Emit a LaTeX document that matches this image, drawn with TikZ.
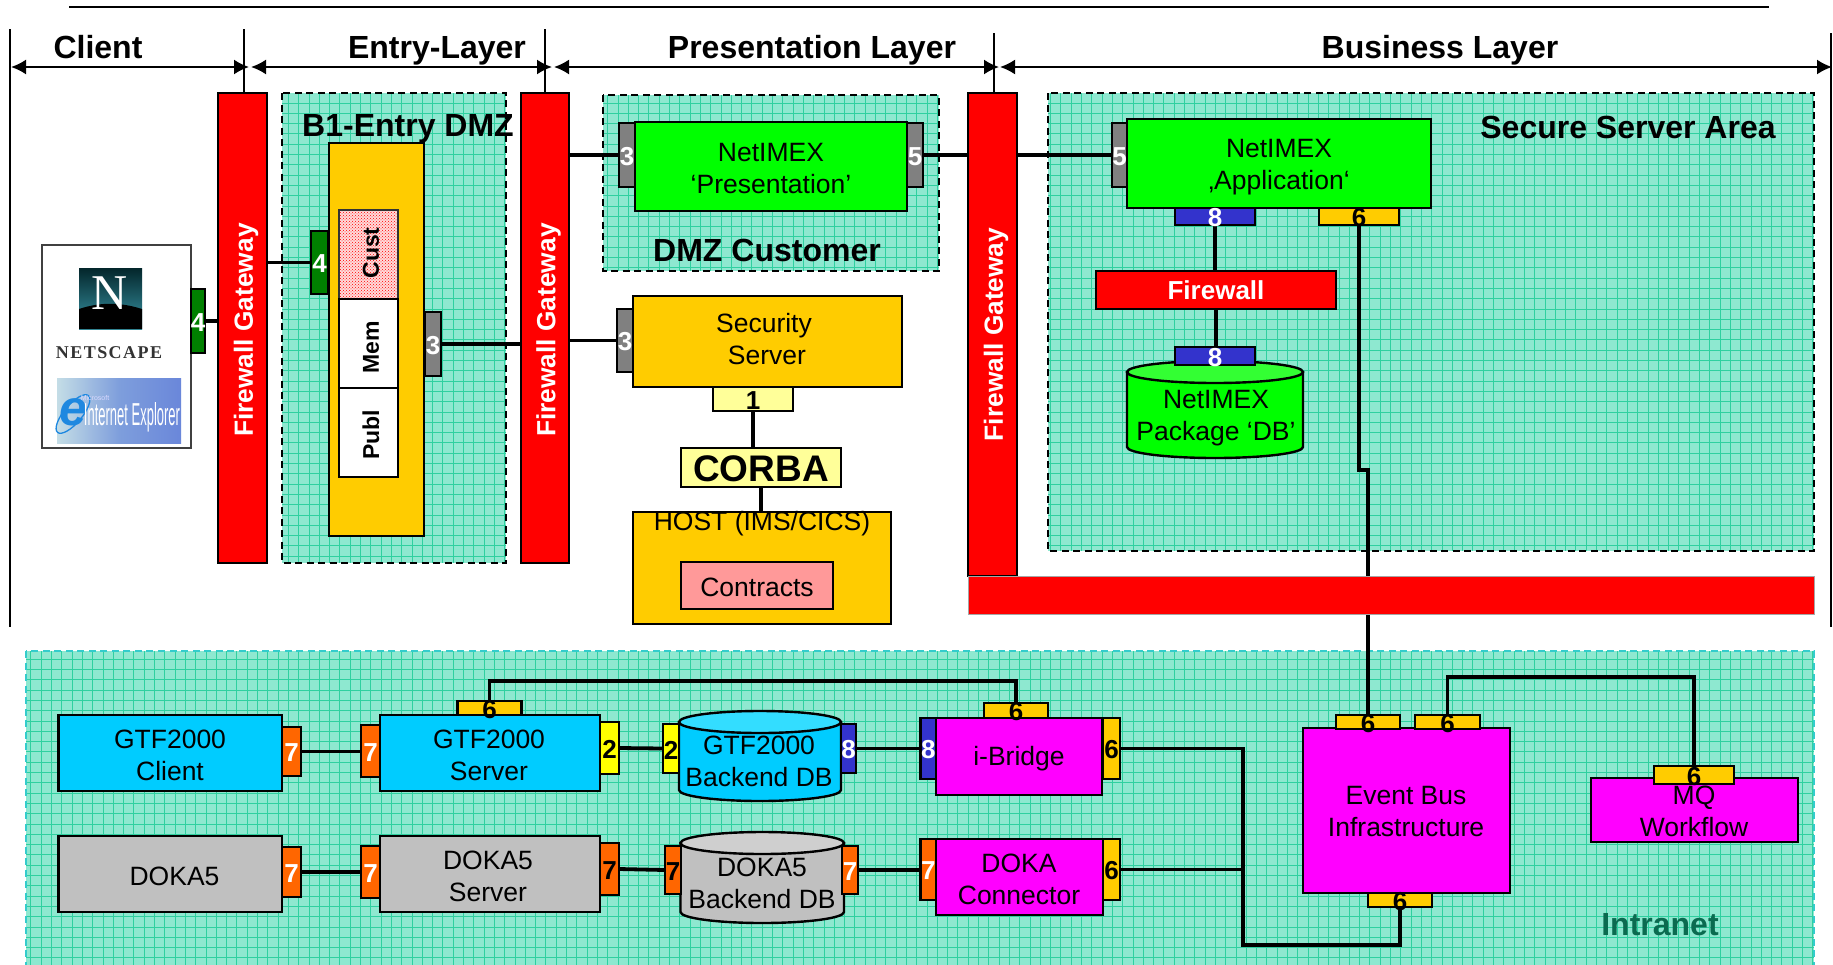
\documentclass[tikz,border=0pt]{standalone}
\usepackage{fontspec}
\usepackage{graphicx}
\setmainfont{Liberation Sans}
\newfontfamily\serifl{Liberation Serif}
\usetikzlibrary{arrows.meta,patterns,calc}
\pgfdeclarelayer{zonelayer}\pgfdeclarelayer{connlayer}
\pgfsetlayers{zonelayer,connlayer,main}
\definecolor{zonefill}{HTML}{8EE8D0}
\definecolor{zonegrid}{HTML}{2FD0A0}
\definecolor{zonecyan}{HTML}{33CCCC}
\definecolor{cfire}{HTML}{FF0000}
\definecolor{cgreen}{HTML}{00FF00}
\definecolor{cgreentop}{HTML}{33FF33}
\definecolor{cgold}{HTML}{FFCC00}
\definecolor{csky}{HTML}{00CCFF}
\definecolor{cskytop}{HTML}{33DDFF}
\definecolor{cgrey}{HTML}{C0C0C0}
\definecolor{cgreytop}{HTML}{CFCFCF}
\definecolor{cmag}{HTML}{FF00FF}
\definecolor{corange}{HTML}{FF6600}
\definecolor{cblue}{HTML}{3333CC}
\definecolor{cdkgreen}{HTML}{008000}
\definecolor{cport}{HTML}{808080}
\definecolor{cyel}{HTML}{FFFF00}
\definecolor{cpale}{HTML}{FFFF99}
\definecolor{cpink}{HTML}{FF9999}
\definecolor{cintra}{HTML}{0B6B50}
\definecolor{ielight}{HTML}{C4DDE6}
\definecolor{iemid}{HTML}{7E9EDC}
\definecolor{iedark}{HTML}{6A87DA}
\definecolor{iee}{HTML}{1E88E0}
\definecolor{nstop}{HTML}{03262B}
\definecolor{nsbot}{HTML}{3A97A8}
\newcommand{\fnt}[1]{\fontsize{#1}{32}\selectfont}
\tikzset{
  boxbase/.style={draw=black,line width=2.4pt,inner sep=0pt,outer sep=0pt,align=center,font=\fnt{26.5}},
  conn/.style={line width=3.8pt,draw=black},
  head/.style={line width=1.8pt,draw=black},
  span/.style={line width=2pt,draw=black,{Latex[length=15pt,width=15pt]}-{Latex[length=15pt,width=15pt]}},
  zonebox/.style={fill=zonefill,inner sep=0pt,outer sep=0pt},
  zonegridline/.style={draw=zonegrid,line width=0.9pt},
  title/.style={font=\fnt{32}\bfseries,inner sep=0pt},
  num/.style={font=\fnt{26}\bfseries,inner sep=0pt,yshift=-1.5pt},
  rotlab/.style={rotate=90,font=\fnt{26.3}\bfseries,text=white,inner sep=0pt,yshift=-3.5pt},
  rotsmall/.style={rotate=90,font=\fnt{23}\bfseries,text=black,inner sep=0pt,yshift=-2.5pt},
  tx/.style={inner sep=0pt,align=center,font=\fnt{26.5}},
}
% name, x0, y0, x1, y1, options, text
\newcommand{\bx}[7]{%
  \pgfmathsetmacro\bxcx{(#2+#4)/2}\pgfmathsetmacro\bxcy{(#3+#5)/2}%
  \pgfmathsetmacro\bxw{#4-#2}\pgfmathsetmacro\bxh{#5-#3}%
  \node[boxbase,#6,minimum width=\bxw pt,minimum height=\bxh pt] (#1) at (\bxcx,\bxcy) {#7};}
% name, x0, y0, x1, y1, fill, text colour, digit
\newcommand{\tb}[8]{\bx{#1}{#2}{#3}{#4}{#5}{fill=#6,label={[num,text=#7]center:#8}}{}}
% name, x0, y0, x1, y1, border colour
\newcommand{\zone}[6]{%
  \begin{pgfonlayer}{zonelayer}
  \pgfmathsetmacro\bxcx{(#2+#4)/2}\pgfmathsetmacro\bxcy{(#3+#5)/2}%
  \pgfmathsetmacro\bxw{#4-#2}\pgfmathsetmacro\bxh{#5-#3}%
  \node[zonebox,minimum width=\bxw pt,minimum height=\bxh pt] (#1) at (\bxcx,\bxcy) {};
  \begin{scope}
    \clip (#2,#3) rectangle (#4,#5);
    \draw[zonegridline,step=10.3pt] (#2,#5) grid (#4,#3);
  \end{scope}
  \draw[#6,line width=2pt,dash pattern=on 7pt off 4.5pt] (#2,#3) rectangle (#4,#5);
  \end{pgfonlayer}}
% name, x0, x1, ycentre, ry, yend, body, top
\newcommand{\cyl}[8]{%
  \pgfmathsetmacro\bxcx{(#2+#3)/2}\pgfmathsetmacro\bxw{(#3-#2)/2}%
  \draw[black,line width=2.4pt,fill=#7] (#2,#4) -- (#2,#6) arc[start angle=180,end angle=360,x radius=\bxw pt,y radius=#5pt] -- (#3,#4) -- cycle;
  \draw[black,line width=2.4pt,fill=#8] (\bxcx,#4) ellipse[x radius=\bxw pt,y radius=#5pt];
  \coordinate (#1) at (\bxcx,#4);}
\begin{document}
\begin{tikzpicture}[x=1pt,y=-1pt]
\useasboundingbox (0,0) rectangle (1833,964);
\begin{pgfonlayer}{zonelayer}
\fill[white] (0,0) rectangle (1833,964);
\end{pgfonlayer}
% zones
\zone{zentry}{282}{93}{506}{563}{black}
\zone{zdmz}{603}{95}{939}{271}{black}
\zone{zsecure}{1048}{93}{1814}{551}{black}
\zone{zintra}{26}{651}{1814}{968}{zonecyan}
% header lines
\coordinate (topa) at (69,7);\coordinate (topb) at (1769,7);
\coordinate (v1t) at (10,29);\coordinate (v1b) at (10,627);
\coordinate (v2t) at (244,29);
\coordinate (v3t) at (545,29);
\coordinate (v4t) at (994,33);
\coordinate (v5t) at (1831,33);\coordinate (v5b) at (1831,627);
\coordinate (s1) at (11,67);\coordinate (s2) at (249,67);\coordinate (s3) at (251,67);\coordinate (s4) at (552,67);
\coordinate (s5) at (554,67);\coordinate (s6) at (999,67);\coordinate (s7) at (1000,67);\coordinate (s8) at (1832,67);
\draw[line width=2.2pt] (topa) -- (topb);
\draw[head] (v1t) -- (v1b);
\draw[head] (v5t) -- (v5b);
\draw[span] (s1) -- (s2);
\draw[span] (s3) -- (s4);
\draw[span] (s5) -- (s6);
\draw[span] (s7) -- (s8);
\node[title,anchor=base] (hclient) at (98,58) {Client};
\node[title,anchor=base] (hentry) at (437,58) {Entry-Layer};
\node[title,anchor=base] (hpres) at (812,58) {Presentation Layer};
\node[title,anchor=base] (hbus) at (1440,58) {Business Layer};
% firewall gateways
\bx{fw1}{218}{93}{267}{563}{fill=cfire,label={[rotlab,xshift=-2pt]center:Firewall Gateway}}{}
\bx{fw2}{521}{93}{569}{563}{fill=cfire,label={[rotlab,xshift=-2pt]center:Firewall Gateway}}{}
\bx{fw3}{968}{93}{1017}{576}{fill=cfire,label={[rotlab]center:Firewall Gateway}}{}
\bx{fwbar}{968}{576}{1814}{614}{fill=cfire,draw=black!35,line width=1pt}{}
% browser box
\bx{browser}{42}{245}{191}{448}{fill=white,draw=black!75,line width=2pt}{}
\bx{nslogo}{79}{268}{142}{329}{top color=nstop,bottom color=nsbot,draw=none}{}
\fill[black] (79,329) -- (79,309) .. controls (100,302) and (120,302) .. (142,309) -- (142,329) -- cycle;
\node[inner sep=0pt,text=white,font=\serifl\fontsize{50}{50}\selectfont] (nsn) at (110,293) {N};
\node[inner sep=0pt,text=black!80,font=\serifl\bfseries\fontsize{18}{18}\selectfont] (nstext) at (109,353) {\addfontfeature{LetterSpace=8}NETSCAPE};
\shade[left color=ielight,right color=iedark,middle color=iemid] (57,378) rectangle (181,443);
\node[inner sep=0pt,text=iee,font=\bfseries\itshape\fontsize{50}{50}\selectfont] (iemark) at (73,412) {e};
\draw[iee,line width=1.3pt,rotate around={50:(73,414)}] (73,414) ellipse[x radius=24pt,y radius=9pt];
\node[inner sep=0pt,text=white] (ietext) at (132,417) {\resizebox{96pt}{23pt}{Internet Explorer}};
\node[inner sep=0pt,text=white!85!blue,font=\fontsize{7}{8}\selectfont] (iems) at (95,398) {Microsoft};
\tb{t4b}{191}{289}{205}{353}{cdkgreen}{white}{4}
% entry
\node[title] (hb1) at (408,128.5) {B1-Entry DMZ};
\bx{entrybox}{329}{143}{424}{536}{fill=cgold}{}
\bx{cust}{339}{210}{398}{299}{preaction={fill=red!14},pattern=crosshatch dots,pattern color=red,draw=black!80,line width=2pt,label={[rotsmall,xshift=1.5pt]center:Cust}}{}
\bx{mem}{339}{299}{398}{388}{fill=white,line width=2pt,label={[rotsmall,xshift=-3.5pt]center:Mem}}{}
\bx{publ}{339}{388}{398}{477}{fill=white,line width=2pt,label={[rotsmall,xshift=-2.5pt]center:Publ}}{}
\tb{t4e}{311}{231}{328}{294}{cdkgreen}{white}{4}
\tb{t3e}{425}{312}{441}{376}{cport}{white}{3}
% presentation
\bx{pres}{635}{122}{907}{211}{fill=cgreen}{}
\node[tx] (prestxt) at (771,169) {NetIMEX\\‘Presentation’};
\tb{t3p}{619}{123}{635}{187}{cport}{white}{3}
\tb{t5p}{907}{123}{923}{187}{cport}{white}{5}
\node[title] (hdmz) at (767,250) {DMZ Customer};
% security and host
\bx{sec}{633}{296}{902}{387}{fill=cgold}{}
\node[tx] (sectxt) at (767,339) {Security\hspace*{6pt}\\Server};
\tb{t3s}{617}{309}{633}{372}{cport}{white}{3}
\tb{t1}{713}{387}{793}{411}{cpale}{black}{1}
\bx{corba}{681}{448}{841}{487}{fill=cpale,line width=2pt}{}
\node[inner sep=0pt,font=\fnt{37}\bfseries] (corbatxt) at (761,468.5) {CORBA};
\bx{host}{633}{512}{891}{624}{fill=cgold}{}
\node[tx] (hosttxt) at (762,524) {HOST (IMS/CICS)};
\bx{contracts}{681}{562}{833}{609}{fill=cpink}{}
\node[tx] (contxt) at (757,587.5) {Contracts};
% application
\bx{app}{1127}{119}{1431}{208}{fill=cgreen}{}
\node[tx] (apptxt) at (1279,167) {NetIMEX\\‚Application‘};
\tb{t5a}{1112}{123}{1127}{187}{cport}{white}{5}
\tb{t8a}{1175}{208}{1255}{225}{cblue}{white}{8}
\tb{t6a}{1319}{208}{1399}{225}{cgold}{black}{6}
\bx{fwsmall}{1096}{271}{1336}{309}{fill=cfire,font=\fnt{26}\bfseries,text=white}{Firewall}
\cyl{cylpkg}{1127}{1303}{372}{11}{447}{cgreen}{cgreentop}
\tb{t8p}{1175}{347}{1255}{365}{cblue}{white}{8}
\node[tx] (pkgtxt) at (1216,418) {NetIMEX\\Package ‘DB’};
\node[title] (hsec) at (1628,127) {Secure Server Area};
% intranet row 1
\bx{gtfc}{58.5}{715}{282}{791}{fill=csky}{}
\node[tx] (gtfctxt) at (170,755) {GTF2000\\Client};
\tb{t7c}{282}{727}{301}{776}{corange}{white}{7}
\bx{gtfs}{380}{715}{600}{791}{fill=csky}{}
\node[tx] (gtfstxt) at (489,755) {GTF2000\\Server};
\tb{t7s}{361}{725}{380}{777}{corange}{white}{7}
\tb{t6s}{457.5}{701}{521.5}{715}{cgold}{black}{6}
\tb{t2s}{600}{722}{619}{774}{cyel}{black}{2}
\cyl{cylgtf}{679}{841}{722}{11}{790}{csky}{cskytop}
\tb{t2d}{663}{724}{679}{773}{cyel}{black}{2}
\tb{t8d}{841}{724}{856}{773}{cblue}{white}{8}
\node[tx] (gtfdb) at (759,761.5) {GTF2000\\Backend DB};
\bx{ibr}{936}{718}{1102}{795}{fill=cmag}{}
\node[tx] (ibrtxt) at (1019,759) {i-Bridge};
\tb{t8i}{920.5}{718}{936}{779}{cblue}{white}{8}
\tb{t6i}{984}{703}{1048}{718}{cgold}{black}{6}
\tb{t6r}{1103}{718}{1120}{779}{cgold}{black}{6}
% intranet row 2
\bx{doka}{58.5}{836}{282}{912}{fill=cgrey}{}
\node[tx] (dokatxt) at (174.5,876) {DOKA5};
\tb{t7dk}{282}{847}{301}{897}{corange}{white}{7}
\bx{dokas}{380}{836}{600}{912}{fill=cgrey}{}
\node[tx] (dokastxt) at (488,876) {DOKA5\\Server};
\tb{t7ds}{361}{846}{380}{898}{corange}{white}{7}
\tb{t7dr}{600}{843}{619}{895}{corange}{black}{7}
\cyl{cyldok}{680.5}{844}{843}{11}{912}{cgrey}{cgreytop}
\tb{t7bl}{665}{846}{681}{894}{corange}{black}{7}
\tb{t7br}{842}{846}{858}{894}{corange}{white}{7}
\node[tx] (dokdb) at (762,883.5) {DOKA5\\Backend DB};
\bx{dokc}{936}{839}{1103}{915}{fill=cmag}{}
\node[tx] (dokctxt) at (1019,879) {DOKA\\Connector};
\tb{t7dc}{920.5}{839}{936}{900}{corange}{white}{7}
\tb{t6c}{1103}{839}{1120}{900}{cgold}{black}{6}
% event bus and MQ
\bx{ebus}{1303}{728}{1510}{893}{fill=cmag}{}
\node[tx] (ebustxt) at (1406,811.5) {Event Bus\\Infrastructure};
\tb{t6e1}{1336}{715}{1400}{729}{cgold}{black}{6}
\tb{t6e2}{1415}{715}{1480}{729}{cgold}{black}{6}
\tb{t6e3}{1368}{893}{1432}{907}{cgold}{black}{6}
\bx{mq}{1591}{778}{1798}{842}{fill=cmag}{}
\node[tx] (mqtxt) at (1694,811.5) {MQ\\Workflow};
\tb{t6m}{1654}{766}{1734}{784}{cgold}{black}{6}
\node[title,text=cintra] (hintra) at (1660,925) {Intranet};
\coordinate (junc) at (1243,945);
% connectors
\begin{pgfonlayer}{connlayer}
\draw[head] (v2t) -- (v2t |- fw1.north);
\draw[head] (v3t) -- (v3t |- fw2.north);
\draw[head] (v4t) -- (v4t |- fw3.north);
\draw[conn] (t4b.east) -- (t4b.east -| fw1.west);
\draw[conn] (fw1.east |- t4e.west) -- (t4e.west);
\draw[conn] (t3e.east) -- (t3e.east -| fw2.west);
\draw[conn] (fw2.east |- t3p.west) -- (t3p.west);
\draw[conn] (fw2.east |- t3s.west) -- (t3s.west);
\draw[conn] (t5p.east) -- (t5p.east -| fw3.west);
\draw[conn] (fw3.east |- t5a.west) -- (t5a.west);
\draw[conn] (t1.south) -- (t1.south |- corba.north);
\draw[conn] (corba.south) -- (corba.south |- host.north);
\draw[conn] (t8a.south) -- (t8a.south |- fwsmall.north);
\draw[conn] (fwsmall.south) -- (fwsmall.south |- t8p.north);
\draw[conn] (t6a.south) -- ++(0,245) -| (t6e1.north);
\draw[conn] (t7c.east) -- (t7s.west |- t7c.east);
\draw[conn] (t7dk.east) -- (t7ds.west |- t7dk.east);
\draw[conn] (t2s.east) -- (t2d.west);
\draw[conn] (t8d.east) -- (t8i.west |- t8d.east);
\draw[conn] (t7dr.east) -- (t7bl.west);
\draw[conn] (t7br.east) -- (t7dc.west |- t7br.east);
\draw[conn] (t6s.north) -- ++(0,-20) -| (t6i.north);
\draw[conn] (t6r.east) -| (junc) -| (t6e3.south);
\draw[conn] (t6c.east) -- (junc |- t6c.east);
\draw[conn] (t6e2.north) -- ++(0,-38) -| (t6m.north);
\end{pgfonlayer}
\end{tikzpicture}
\end{document}
